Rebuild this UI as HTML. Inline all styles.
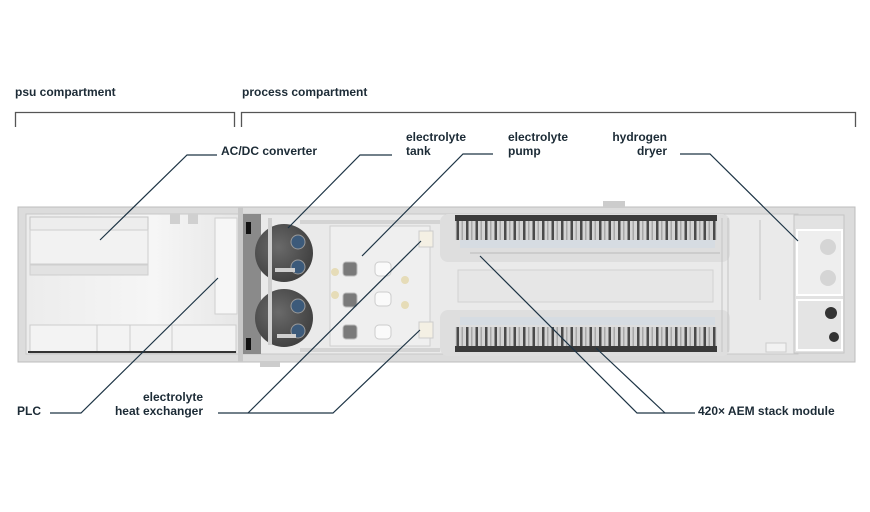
<!DOCTYPE html>
<html><head><meta charset="utf-8"><style>
html,body{margin:0;padding:0;background:#fff;}
svg{display:block;}
text{font-family:"Liberation Sans",sans-serif;font-size:12px;font-weight:bold;fill:#1c2b36;}
</style></head><body>
<svg width="870" height="512" viewBox="0 0 870 512" xmlns="http://www.w3.org/2000/svg">
<defs>
<pattern id="mods" x="458" y="0" width="9.5" height="40" patternUnits="userSpaceOnUse">
<rect x="0" y="0" width="9.5" height="40" fill="#4a4a4a"/>
<rect x="1" y="0" width="7" height="40" fill="#d4d4d4"/>
<rect x="3.5" y="0" width="1.5" height="40" fill="#a8a8a8"/>
</pattern>
<radialGradient id="tank" cx="0.4" cy="0.4" r="0.7"><stop offset="0" stop-color="#6a6a6a"/><stop offset="1" stop-color="#3c3c3c"/></radialGradient>
<linearGradient id="psu" x1="0" x2="1"><stop offset="0" stop-color="#ececec"/><stop offset="0.6" stop-color="#f6f6f6"/><stop offset="1" stop-color="#e6e6e6"/></linearGradient>
</defs>

<text x="15" y="96">psu compartment</text>
<text x="242" y="96">process compartment</text>
<path d="M15.5 127V112.5H234.5V127" fill="none" stroke="#555" stroke-width="1.3"/>
<path d="M241.5 127V112.5H855.5V127" fill="none" stroke="#555" stroke-width="1.3"/>

<rect x="18" y="207" width="837" height="155" fill="#dcdcdc" stroke="#bdbdbd"/>
<rect x="26" y="214" width="214" height="140" fill="url(#psu)" stroke="#c8c8c8"/>
<rect x="30" y="217" width="118" height="48" fill="#ededed" stroke="#c5c5c5"/>
<rect x="30" y="230" width="118" height="34" fill="#f2f2f2" stroke="#cfcfcf"/>
<rect x="30" y="265" width="118" height="10" fill="#e2e2e2" stroke="#cfcfcf"/>
<rect x="215" y="218" width="22" height="96" fill="#f6f6f6" stroke="#cfcfcf"/>
<rect x="30" y="325" width="206" height="28" fill="#f3f3f3" stroke="#cdcdcd"/>
<path d="M97 325V353M130 325V353M172 325V353" stroke="#cdcdcd"/>
<rect x="28" y="351" width="208" height="2" fill="#333"/>
<rect x="170" y="214" width="10" height="10" fill="#d0d0d0"/><rect x="188" y="214" width="10" height="10" fill="#d0d0d0"/>
<rect x="238" y="207" width="5" height="155" fill="#c8c8c8"/>

<rect x="243" y="214" width="555" height="140" fill="#eaeaea" stroke="#c8c8c8"/>
<rect x="243" y="214" width="18" height="140" fill="#8a8a8a"/>
<rect x="246" y="222" width="5" height="12" fill="#111"/><rect x="246" y="338" width="5" height="12" fill="#111"/>
<circle cx="284" cy="253" r="29" fill="url(#tank)"/>
<circle cx="284" cy="318" r="29" fill="url(#tank)"/>
<circle cx="298" cy="242" r="7" fill="#3c5a7a" stroke="#999"/><circle cx="298" cy="267" r="7" fill="#3c5a7a" stroke="#999"/>
<circle cx="298" cy="306" r="7" fill="#3c5a7a" stroke="#999"/><circle cx="298" cy="331" r="7" fill="#3c5a7a" stroke="#999"/>
<path d="M270 218V345M275 270H295M277 336H296" stroke="#cfcfcf" stroke-width="4" fill="none"/>
<rect x="330" y="226" width="100" height="120" fill="#efefef" stroke="#cfcfcf"/>
<g fill="#7a7a7a" stroke="#bbb"><rect x="343" y="262" width="14" height="14" rx="3"/><rect x="343" y="293" width="14" height="14" rx="3"/><rect x="343" y="325" width="14" height="14" rx="3"/></g>
<g fill="#fafafa" stroke="#ccc"><rect x="375" y="262" width="16" height="14" rx="4"/><rect x="375" y="292" width="16" height="14" rx="4"/><rect x="375" y="325" width="16" height="14" rx="4"/></g>
<g fill="#e6dcb8"><circle cx="335" cy="272" r="4"/><circle cx="335" cy="295" r="4"/><circle cx="405" cy="280" r="4"/><circle cx="405" cy="305" r="4"/></g>
<rect x="419" y="231" width="14" height="16" fill="#f4f0e4" stroke="#ccc"/>
<rect x="419" y="322" width="14" height="16" fill="#f4f0e4" stroke="#ccc"/>
<path d="M300 222H440M300 350H440" stroke="#d4d4d4" stroke-width="4"/>

<rect x="440" y="214" width="290" height="48" rx="8" fill="#dedede"/>
<rect x="455" y="215" width="262" height="6" fill="#3a3a3a"/>
<rect x="455" y="221" width="262" height="19" fill="url(#mods)"/>
<rect x="460" y="240" width="255" height="8" fill="#d6dce2"/>
<path d="M470 253H720" stroke="#bbb"/>
<rect x="440" y="310" width="290" height="46" rx="8" fill="#dedede"/>
<rect x="460" y="317" width="255" height="8" fill="#d6dce2"/>
<rect x="455" y="327" width="262" height="19" fill="url(#mods)"/>
<rect x="455" y="346" width="262" height="6" fill="#3a3a3a"/>
<rect x="458" y="270" width="255" height="32" fill="#e6e6e6" stroke="#d2d2d2"/>
<path d="M722 218V352M728 218V352M760 220V300" stroke="#c4c4c4"/>

<rect x="794" y="215" width="50" height="138" fill="#e2e2e2" stroke="#c4c4c4"/>
<rect x="797" y="230" width="45" height="65" fill="#eeeeee" stroke="#fff" stroke-width="2"/>
<rect x="797" y="300" width="45" height="50" fill="#e4e4e4" stroke="#fff" stroke-width="2"/>
<circle cx="828" cy="247" r="8" fill="#d5d5d5"/><circle cx="828" cy="278" r="8" fill="#d5d5d5"/>
<circle cx="831" cy="313" r="6" fill="#333"/><circle cx="834" cy="337" r="5" fill="#333"/>
<rect x="766" y="343" width="20" height="9" fill="#f2f2f2" stroke="#ccc"/>
<rect x="603" y="201" width="22" height="6" fill="#ccc"/><rect x="260" y="362" width="20" height="5" fill="#ccc"/>

<g fill="none" stroke="#1d3445" stroke-width="1.2">
<path d="M217 155H187L100 240"/>
<path d="M392 155H360L288 228"/>
<path d="M493 154H463L362 256"/>
<path d="M680 154H710L798 241"/>
<path d="M50 413H81L218 278"/>
<path d="M218 413H333L420 330"/>
<path d="M248 413L421 241"/>
<path d="M695 413H637L480 256"/>
<path d="M665 413L596 348"/>
</g>

<text x="221" y="155">AC/DC converter</text>
<text x="406" y="141">electrolyte</text><text x="406" y="155">tank</text>
<text x="508" y="141">electrolyte</text><text x="508" y="155">pump</text>
<text x="667" y="141" text-anchor="end">hydrogen</text><text x="667" y="155" text-anchor="end">dryer</text>
<text x="17" y="415">PLC</text>
<text x="203" y="401" text-anchor="end">electrolyte</text><text x="203" y="415" text-anchor="end">heat exchanger</text>
<text x="698" y="415">420× AEM stack module</text>
</svg>
</body></html>
